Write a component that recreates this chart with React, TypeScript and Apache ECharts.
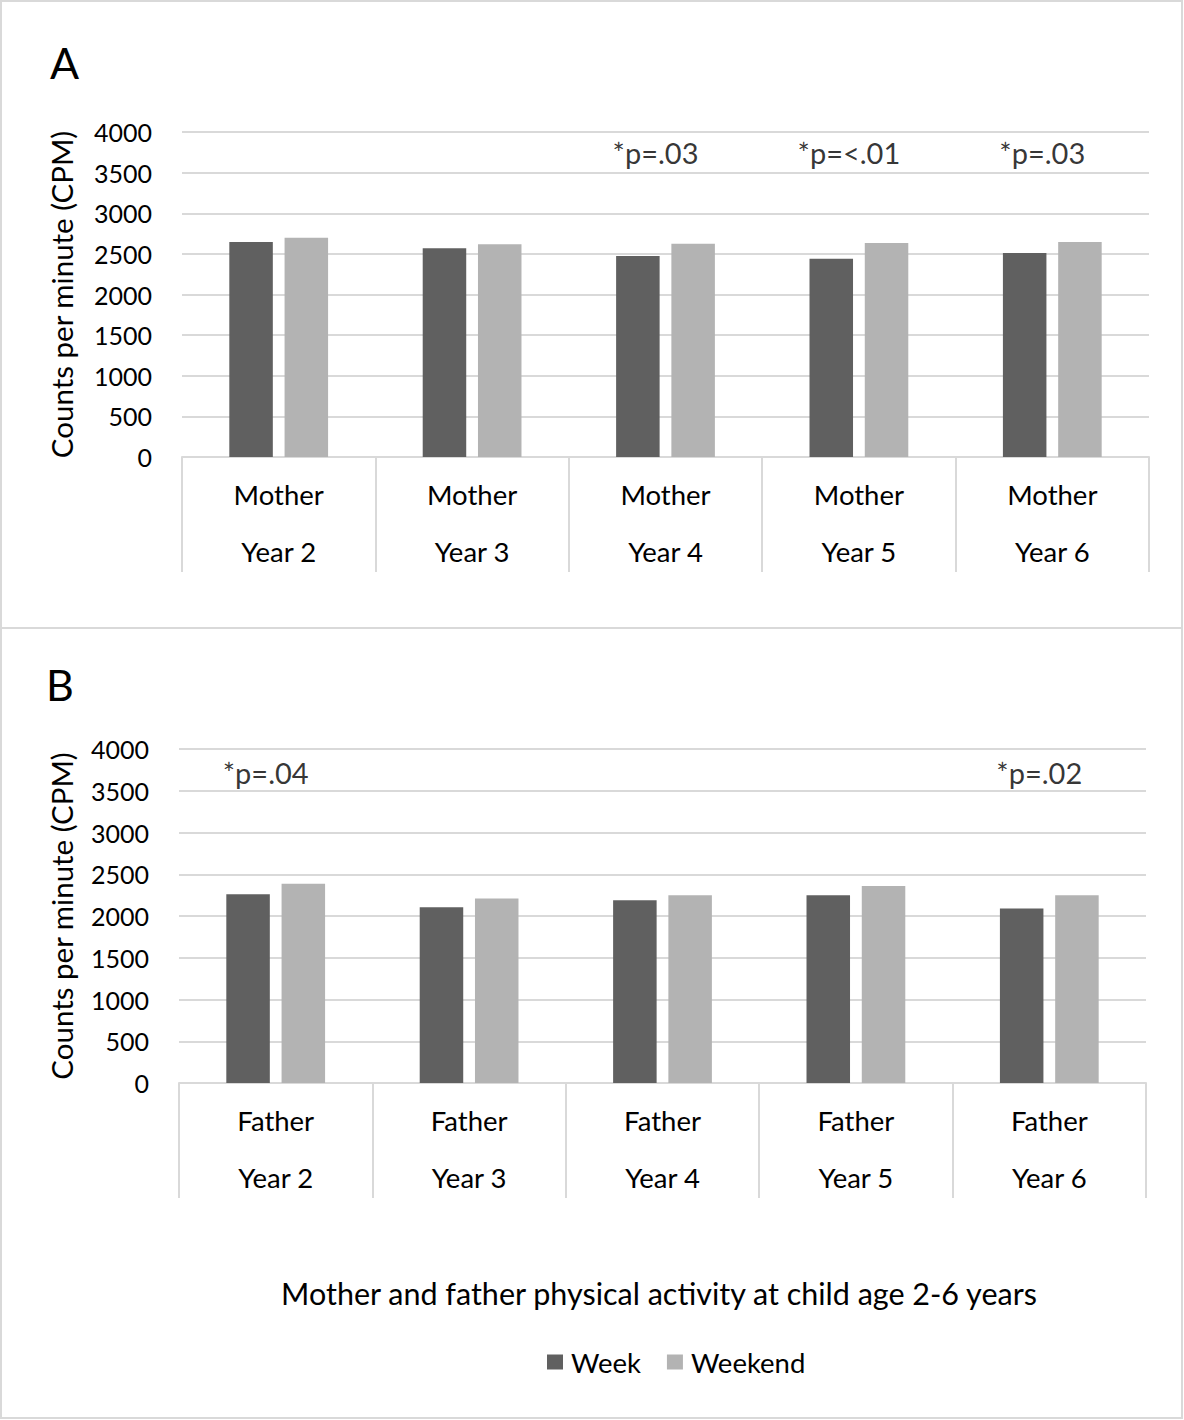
import React, { useEffect, useRef } from "react";
import * as echarts from "echarts";

const yearsA = ["Year 2", "Year 3", "Year 4", "Year 5", "Year 6"];
const motherWeek = [2645, 2570, 2475, 2440, 2510];
const motherWeekend = [2700, 2620, 2625, 2635, 2645];
const fatherWeek = [2260, 2105, 2190, 2250, 2090];
const fatherWeekend = [2385, 2210, 2250, 2360, 2250];
const annotA = ["", "", "*p=.03", "*p=<.01", "*p=.03"];
const annotB = ["*p=.04", "", "", "", "*p=.02"];
const annotLevelA = 3750;
const annotLevelB = 3720;
const yTicks = { min: 0, max: 4000, interval: 500 };
const seriesNames = ["Week", "Weekend"];
const axisTitle = "Counts per minute (CPM)";
const bottomTitle = "Mother and father physical activity at child age 2-6 years";

const FONT = "Lato";
const GRID_C = "#d9d9d9";
const WEEK_C = "#606060";
const WEEKEND_C = "#b3b3b3";

function xAxisFor(gridIndex: number, parent: string) {
  return {
    type: "category",
    gridIndex,
    data: yearsA,
    axisLine: { show: true, lineStyle: { color: GRID_C, width: 2 } },
    axisTick: { show: true, interval: 0, length: 115, lineStyle: { color: GRID_C, width: 2 } },
    axisLabel: {
      interval: 0,
      margin: 9,
      formatter: (v: string) => parent + "\n" + v,
      fontFamily: FONT,
      fontSize: 27.5,
      lineHeight: 57,
      color: "#000",
    },
  };
}

function yAxisFor(gridIndex: number, nameGap: number) {
  return {
    type: "value",
    gridIndex,
    min: yTicks.min,
    max: yTicks.max,
    interval: yTicks.interval,
    axisLine: { show: false },
    axisTick: { show: false },
    splitLine: { lineStyle: { color: GRID_C, width: 2 } },
    axisLabel: {
      fontFamily: FONT,
      fontSize: 25,
      color: "#000",
      margin: 30,
      formatter: (v: number) => String(v),
    },
    name: axisTitle,
    nameLocation: "middle",
    nameGap,
    nameTextStyle: { fontFamily: FONT, fontSize: 29.5, color: "#000" },
  };
}

function annotData(arr: string[], level: number) {
  return arr
    .map((t, i) => ({ value: [yearsA[i], level], label: { formatter: t } }))
    .filter((d) => d.label.formatter !== "");
}

export default function App() {
  const ref = useRef<HTMLDivElement>(null);
  useEffect(() => {
    if (!ref.current) return;
    const chart = echarts.init(ref.current, undefined, { renderer: "svg" });
    const barCommon = { type: "bar", barWidth: "22.5%", barGap: "27%" };
    const annotCommon = {
      type: "scatter",
      symbolSize: 1,
      itemStyle: { color: "rgba(0,0,0,0)" },
      silent: true,
      label: {
        show: true,
        position: "inside",
        offset: [-10, 0],
        fontFamily: FONT,
        fontSize: 29,
        color: "#000",
      },
    };
    chart.setOption({
      animation: false,
      backgroundColor: "#fff",
      grid: [
        { left: 182, top: 132, width: 967, height: 325 },
        { left: 179, top: 749, width: 967, height: 334 },
      ],
      xAxis: [xAxisFor(0, "Mother"), xAxisFor(1, "Father")],
      yAxis: [yAxisFor(0, 106), yAxisFor(1, 103)],
      legend: {
        data: seriesNames,
        left: 542,
        top: 1343,
        itemWidth: 16,
        itemHeight: 15,
        itemGap: 26,
        icon: "rect",
        textStyle: { fontFamily: FONT, fontSize: 27.5, color: "#000", padding: [0, 0, 0, 3] },
      },
      series: [
        { ...barCommon, name: seriesNames[0], xAxisIndex: 0, yAxisIndex: 0, data: motherWeek, itemStyle: { color: WEEK_C } },
        { ...barCommon, name: seriesNames[1], xAxisIndex: 0, yAxisIndex: 0, data: motherWeekend, itemStyle: { color: WEEKEND_C } },
        { ...barCommon, name: seriesNames[0], xAxisIndex: 1, yAxisIndex: 1, data: fatherWeek, itemStyle: { color: WEEK_C } },
        { ...barCommon, name: seriesNames[1], xAxisIndex: 1, yAxisIndex: 1, data: fatherWeekend, itemStyle: { color: WEEKEND_C } },
        { ...annotCommon, name: "annotA", xAxisIndex: 0, yAxisIndex: 0, data: annotData(annotA, annotLevelA) },
        { ...annotCommon, name: "annotB", xAxisIndex: 1, yAxisIndex: 1, data: annotData(annotB, annotLevelB) },
      ],
      graphic: [
        { type: "rect", shape: { x: 1, y: 1, width: 1181, height: 1417 }, style: { fill: "none", stroke: GRID_C, lineWidth: 2 }, silent: true },
        { type: "line", shape: { x1: 1, y1: 628, x2: 1183, y2: 628 }, style: { stroke: GRID_C, lineWidth: 2 }, silent: true },
        { type: "text", x: 50, y: 62, style: { text: "A", fontFamily: FONT, fontSize: 43, fill: "#000", verticalAlign: "middle" } },
        { type: "text", x: 46, y: 684, style: { text: "B", fontFamily: FONT, fontSize: 43, fill: "#000", verticalAlign: "middle" } },
        { type: "text", x: 659, y: 1293, style: { text: bottomTitle, fontFamily: FONT, fontSize: 30.5, fill: "#000", align: "center", verticalAlign: "middle" } },
      ],
    });
    return () => chart.dispose();
  }, []);
  return (
    <div
      ref={ref}
      style={{ position: "absolute", left: 0, top: 0, width: 1184, height: 1420, background: "#fff" }}
    />
  );
}
